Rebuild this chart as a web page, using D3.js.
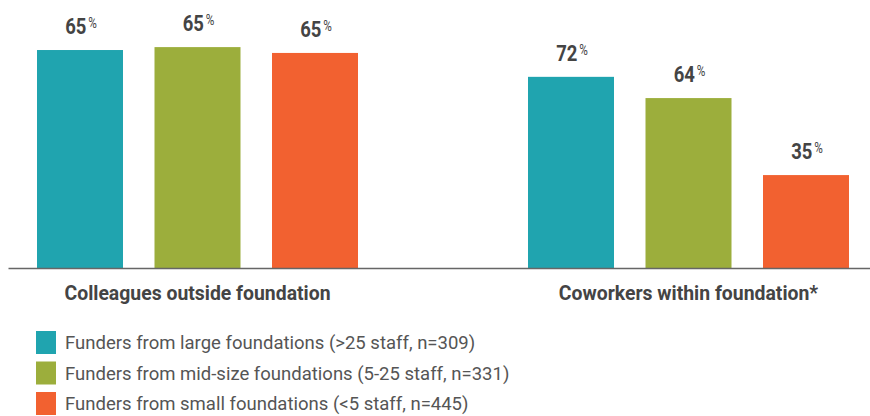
<!DOCTYPE html>
<html><head><meta charset="utf-8">
<script src="https://cdn.jsdelivr.net/npm/d3@7"></script>
<style>body{margin:0;background:#fff}svg{display:block}</style>
</head><body>
<svg id="c" width="870" height="416"></svg>
<script>
const categories = ["Colleagues outside foundation", "Coworkers within foundation*"];
const seriesNames = [
  "Funders from large foundations (>25 staff, n=309)",
  "Funders from mid-size foundations (5-25 staff, n=331)",
  "Funders from small foundations (<5 staff, n=445)"
];
// bar lengths as drawn in the picture (percent scale)
const largeValues = [82.1, 72];
const midValues = [83.2, 64];
const smallValues = [81.0, 35];
// printed labels
const largeLabels = [65, 72];
const midLabels = [65, 64];
const smallLabels = [65, 35];
const colors = ["#20A4AF", "#9CAE3C", "#F26130"];

const svg = d3.select("#c");
const baseY = 268;
const y = d3.scaleLinear().domain([0, 100]).range([baseY, baseY - 265.5]);
const x0 = d3.scaleBand().domain(categories).range([37, 849]).paddingInner(170/491).paddingOuter(0);
const x1 = d3.scaleBand().domain(seriesNames).range([0, x0.bandwidth()]).paddingInner(31.5/117.5).paddingOuter(0);
const color = d3.scaleOrdinal().domain(seriesNames).range(colors);

const vals = [largeValues, midValues, smallValues];
const labs = [largeLabels, midLabels, smallLabels];
const data = [];
categories.forEach((c, ci) => seriesNames.forEach((s, si) => data.push({c, s, v: vals[si][ci], l: labs[si][ci]})));

const g = svg.append("g");
g.selectAll("rect.bar").data(data).join("rect").attr("class","bar")
  .attr("x", d => x0(d.c) + x1(d.s))
  .attr("width", x1.bandwidth())
  .attr("y", d => y(d.v))
  .attr("height", d => y(0) - y(d.v))
  .attr("fill", d => color(d.s));

const sx = 0.84;
const lab = g.selectAll("text.val").data(data).join("text").attr("class","val")
  .attr("transform", d => `translate(${x0(d.c) + x1(d.s) + x1.bandwidth()/2 + 1},${y(d.v) - 16}) scale(${sx},1)`)
  .attr("text-anchor","middle")
  .style("font-family","Roboto, sans-serif").style("font-weight","700")
  .style("font-size","22px").style("fill","#444");
lab.append("tspan").text(d => d.l);
lab.append("tspan").attr("dy", -6).attr("dx", 2).style("font-size","14px").style("font-weight","400").text("%");

// baseline axis
const axisScale = d3.scaleLinear().range([8, 870]);
svg.append("g").attr("transform", `translate(0,${baseY})`)
  .call(d3.axisBottom(axisScale).ticks(0).tickSizeOuter(0))
  .call(a => a.select(".domain").attr("stroke","#666").attr("stroke-width",1.5));

// category labels
svg.selectAll("text.cat").data(categories).join("text").attr("class","cat")
  .attr("transform", d => `translate(${x0(d) + x0.bandwidth()/2},300)`)
  .attr("text-anchor","middle")
  .style("font-family","Roboto, sans-serif").style("font-weight","700")
  .style("font-size","19.4px").style("fill","#444")
  .text(d => d);

// legend
const leg = svg.append("g");
const li = leg.selectAll("g").data(seriesNames).join("g")
  .attr("transform", (d,i) => `translate(36,${331 + i*30.5})`);
li.append("rect").attr("width",20).attr("height",23).attr("fill", d => color(d));
li.append("text").attr("transform", `translate(29,18) scale(0.975,1)`)
  .style("font-family","Roboto, sans-serif").style("font-weight","400")
  .style("font-size","19px").style("fill","#555")
  .text(d => d);
</script>
</body></html>
